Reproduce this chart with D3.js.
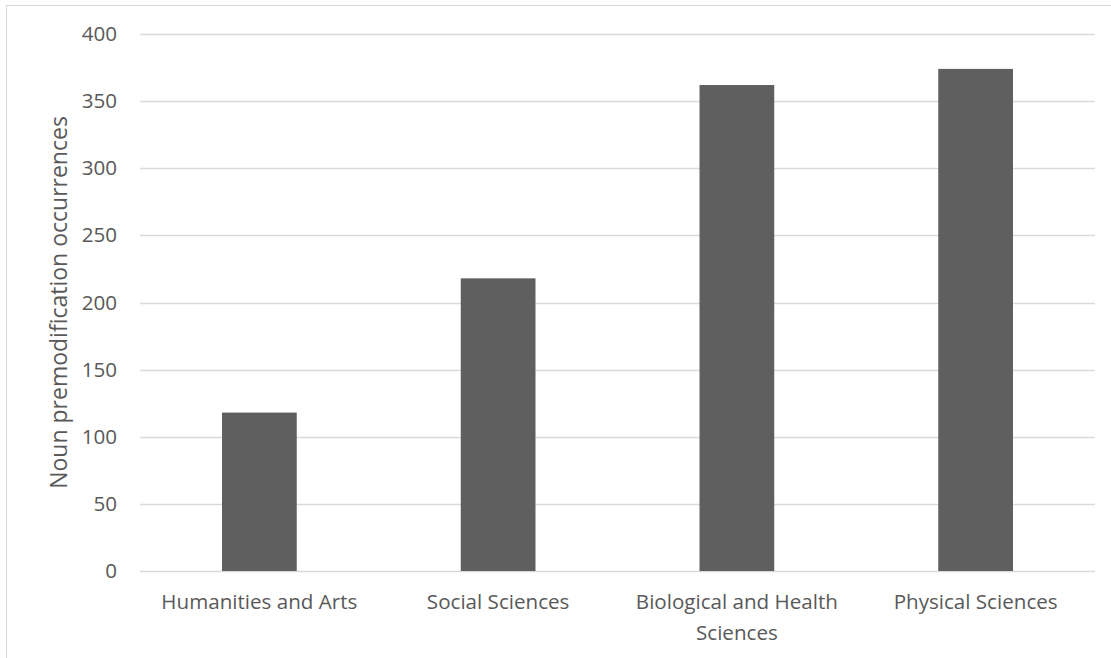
<!DOCTYPE html>
<html>
<head>
<meta charset="utf-8">
<script src="https://cdn.jsdelivr.net/npm/d3@7"></script>
<style>
  html, body { margin: 0; padding: 0; background: #fff; }
  svg { display: block; }
  text { font-family: "Open Sans", sans-serif; fill: #595959; }
</style>
</head>
<body>
<svg id="chart" width="1111" height="658"></svg>
<script>
// Noun premodification occurrences by discipline
const categories = ["Humanities and Arts", "Social Sciences", "Biological and Health Sciences", "Physical Sciences"];
const occurrences = [118, 218, 362, 374];
const yTicks = [0, 50, 100, 150, 200, 250, 300, 350, 400];
const yTitle = "Noun premodification occurrences";

const W = 1111, H = 658;
const plot = { left: 140, right: 1095, top: 34, bottom: 571 };

const svg = d3.select("#chart");

// chart frame
svg.append("path")
  .attr("d", `M6.5,${H} V5.5 H${W}`)
  .attr("fill", "none")
  .attr("stroke", "#d9d9d9")
  .attr("stroke-width", 1);

const x = d3.scaleBand()
  .domain(categories)
  .range([plot.left, plot.right])
  .paddingInner(0)
  .paddingOuter(0);

const y = d3.scaleLinear()
  .domain([0, 400])
  .range([plot.bottom, plot.top]);

// horizontal gridlines
svg.append("g")
  .selectAll("line")
  .data(yTicks)
  .join("line")
  .attr("x1", plot.left)
  .attr("x2", plot.right)
  .attr("y1", d => Math.round(y(d)) + 0.5)
  .attr("y2", d => Math.round(y(d)) + 0.5)
  .attr("stroke", "#d9d9d9")
  .attr("stroke-width", 1.3);

// bars
const barW = x.bandwidth() * 0.313;
svg.append("g")
  .selectAll("rect")
  .data(categories)
  .join("rect")
  .attr("x", (d) => x(d) + (x.bandwidth() - barW) / 2)
  .attr("width", barW)
  .attr("y", (d, i) => y(occurrences[i]))
  .attr("height", (d, i) => y(0) - y(occurrences[i]))
  .attr("fill", "#5f5f5f");

// y axis labels
const yAxis = d3.axisLeft(y).tickValues(yTicks).tickSize(0).tickPadding(23);
const gy = svg.append("g")
  .attr("transform", `translate(${plot.left},0)`)
  .call(yAxis);
gy.select(".domain").remove();
gy.selectAll("text")
  .attr("font-size", 20.6)
  .attr("font-family", "Open Sans, sans-serif")
  .attr("fill", "#595959");

// x axis labels, wrapped to the band width
const xAxis = d3.axisBottom(x).tickSize(0).tickPadding(0);
const gx = svg.append("g")
  .attr("transform", `translate(0,${plot.bottom})`)
  .call(xAxis);
gx.select(".domain").remove();
gx.selectAll("text")
  .attr("font-size", 20.6)
  .attr("font-family", "Open Sans, sans-serif")
  .attr("fill", "#595959")
  .attr("dy", null)
  .attr("y", 0)
  .each(function (d) {
    const t = d3.select(this);
    const words = d.split(" ");
    t.text(null);
    const maxW = x.bandwidth() - 10;
    let lines = [], cur = [];
    const probe = t.append("tspan");
    words.forEach(w => {
      const trial = cur.concat([w]).join(" ");
      probe.text(trial);
      if (probe.node().getComputedTextLength() > maxW && cur.length) {
        lines.push(cur.join(" "));
        cur = [w];
      } else {
        cur.push(w);
      }
    });
    lines.push(cur.join(" "));
    probe.remove();
    lines.forEach((ln, i) => {
      t.append("tspan")
        .attr("x", 0)
        .attr("y", 38 + i * 31)
        .text(ln);
    });
  });

// y axis title
svg.append("text")
  .attr("transform", `translate(67,${(plot.top + plot.bottom) / 2}) rotate(-90)`)
  .attr("text-anchor", "middle")
  .attr("font-size", 23)
  .text(yTitle);
</script>
</body>
</html>
